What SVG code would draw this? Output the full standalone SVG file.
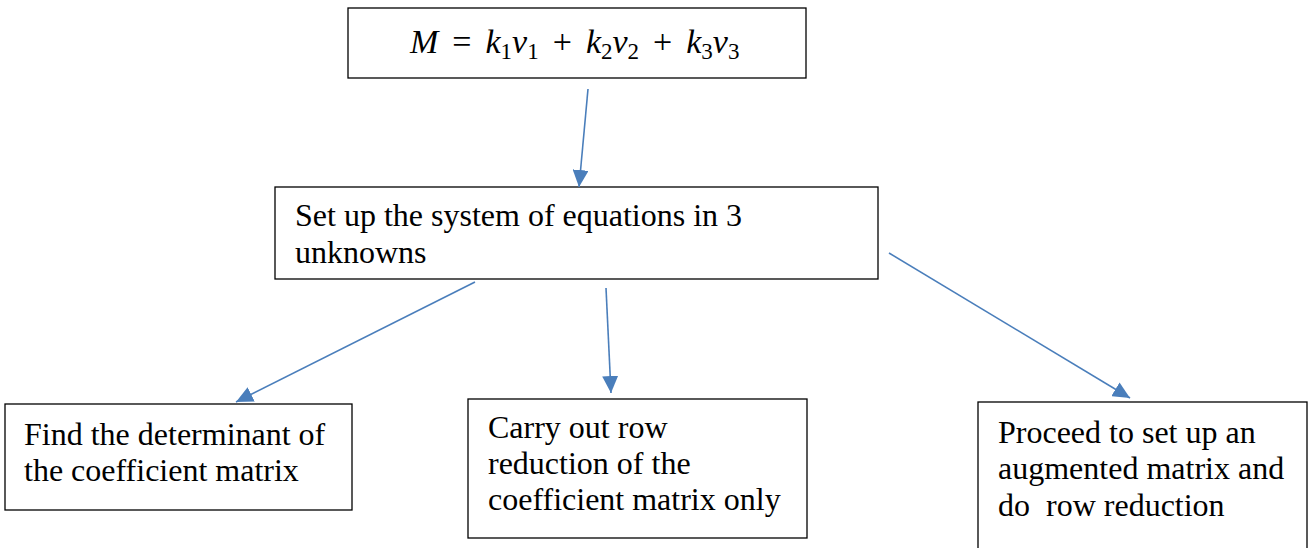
<svg xmlns="http://www.w3.org/2000/svg" width="1312" height="548" viewBox="0 0 1312 548">
<defs>
<style>
.box{fill:#fff;stroke:#000;stroke-width:1.3}
.t{font-family:"Liberation Serif","Times New Roman",serif;font-size:32px;fill:#000}
.m{font-family:"Liberation Serif",serif;font-style:italic;font-size:34px;fill:#000}
.n{font-style:normal}
.conn line{stroke:#4a7ebb;stroke-width:1.6;marker-end:url(#ah)}
</style>
<marker id="ah" markerUnits="userSpaceOnUse" markerWidth="18" markerHeight="16" refX="17" refY="8" orient="auto" viewBox="0 0 18 16">
<path d="M0,0 L17,8 L0,16 z" fill="#4a7ebb"/>
</marker>
</defs>
<rect width="1312" height="548" fill="#fff"/>
<g id="n-top">
<rect class="box" x="348" y="8" width="458" height="70"/>
<text class="m" x="410" y="53">M<tspan class="n" dx="14">=</tspan><tspan dx="14">k</tspan><tspan class="n" font-size="23" dy="6">1</tspan><tspan dy="-6">v</tspan><tspan class="n" font-size="23" dy="6">1</tspan><tspan class="n" dx="14" dy="-6">+</tspan><tspan dx="14">k</tspan><tspan class="n" font-size="23" dy="6">2</tspan><tspan dy="-6">v</tspan><tspan class="n" font-size="23" dy="6">2</tspan><tspan class="n" dx="14" dy="-6">+</tspan><tspan dx="14">k</tspan><tspan class="n" font-size="23" dy="6">3</tspan><tspan dy="-6">v</tspan><tspan class="n" font-size="23" dy="6">3</tspan></text>
</g>
<g id="n-system">
<rect class="box" x="275" y="187" width="603" height="92"/>
<text class="t" x="295" y="226">Set up the system of equations in 3</text>
<text class="t" x="295" y="263">unknowns</text>
</g>
<g id="n-det">
<rect class="box" x="5" y="404" width="347" height="106"/>
<text class="t" x="24" y="445">Find the determinant of</text>
<text class="t" x="24" y="481">the coefficient matrix</text>
</g>
<g id="n-rowred">
<rect class="box" x="468" y="399" width="339" height="139"/>
<text class="t" x="488" y="438">Carry out row</text>
<text class="t" x="488" y="474">reduction of the</text>
<text class="t" x="488" y="510">coefficient matrix only</text>
</g>
<g id="n-aug">
<rect class="box" x="978" y="402" width="329" height="150"/>
<text class="t" x="998" y="443">Proceed to set up an</text>
<text class="t" x="998" y="479">augmented matrix and</text>
<text class="t" x="998" y="516" xml:space="preserve">do  row reduction</text>
</g>
<g class="conn" id="connectors">
<line x1="588" y1="89" x2="579" y2="187"/>
<line x1="475" y1="282" x2="236" y2="402"/>
<line x1="606" y1="288" x2="611" y2="393"/>
<line x1="889" y1="253" x2="1130" y2="398"/>
</g>
</svg>
